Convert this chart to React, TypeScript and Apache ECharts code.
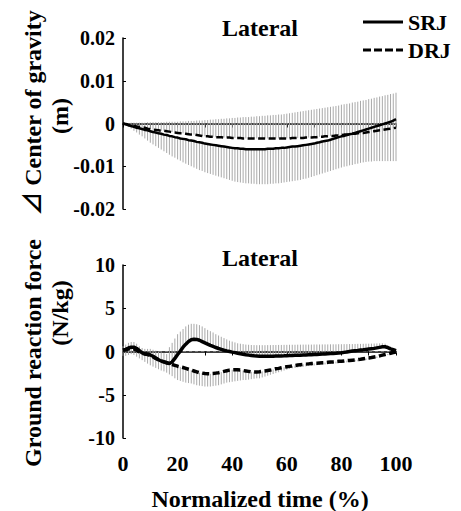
import React, { useEffect, useRef } from "react";
import * as echarts from "echarts";

// Normalized time (%), one sample per percent
const TIME: number[] = Array.from({ length: 101 }, (_, i) => i);

// ---- Top panel: Δ Center of gravity (m), lateral ----
const COG_SRJ: number[] = [
  0, -0.0002, -0.0004, -0.0006, -0.0008, -0.001, -0.0011, -0.0013, -0.0015, -0.0016, -0.0018,
  -0.002, -0.0021, -0.0023, -0.0024, -0.0026, -0.0027, -0.0029, -0.003, -0.0032, -0.0033,
  -0.0035, -0.0036, -0.0037, -0.0039, -0.004, -0.0041, -0.0043, -0.0044, -0.0045, -0.0047,
  -0.0048, -0.0049, -0.005, -0.0051, -0.0052, -0.0053, -0.0054, -0.0055, -0.0056, -0.0057,
  -0.0058, -0.0058, -0.0059, -0.0059, -0.006, -0.006, -0.006, -0.006, -0.006, -0.006,
  -0.006, -0.006, -0.0059, -0.0059, -0.0059, -0.0058, -0.0058, -0.0057, -0.0057, -0.0056,
  -0.0055, -0.0054, -0.0054, -0.0053, -0.0052, -0.0051, -0.005, -0.0049, -0.0048, -0.0047,
  -0.0045, -0.0044, -0.0042, -0.0041, -0.004, -0.0038, -0.0036, -0.0034, -0.0032, -0.003,
  -0.0029, -0.0027, -0.0025, -0.0024, -0.0022, -0.002, -0.0018, -0.0016, -0.0014, -0.0012,
  -0.001, -0.0008, -0.0006, -0.0004, -0.0002, 0, 0.0002, 0.0004, 0.0007, 0.001,
];
const COG_DRJ: number[] = [
  0, -0.0001, -0.0003, -0.0004, -0.0006, -0.0007, -0.0008, -0.0009, -0.001, -0.0012, -0.0013,
  -0.0014, -0.0015, -0.0016, -0.0017, -0.0017, -0.0018, -0.0019, -0.002, -0.0021, -0.0022,
  -0.0023, -0.0023, -0.0024, -0.0025, -0.0026, -0.0026, -0.0027, -0.0028, -0.0029, -0.003,
  -0.003, -0.0031, -0.0031, -0.0032, -0.0032, -0.0032, -0.0033, -0.0033, -0.0033, -0.0034,
  -0.0034, -0.0034, -0.0034, -0.0035, -0.0035, -0.0035, -0.0035, -0.0035, -0.0035, -0.0035,
  -0.0035, -0.0035, -0.0035, -0.0035, -0.0035, -0.0035, -0.0035, -0.0035, -0.0035, -0.0035,
  -0.0035, -0.0034, -0.0034, -0.0034, -0.0034, -0.0034, -0.0033, -0.0033, -0.0033, -0.0032,
  -0.0032, -0.0031, -0.0031, -0.003, -0.003, -0.0029, -0.0029, -0.0028, -0.0028, -0.0027,
  -0.0026, -0.0026, -0.0025, -0.0024, -0.0024, -0.0023, -0.0022, -0.0022, -0.0021, -0.002,
  -0.0019, -0.0018, -0.0017, -0.0016, -0.0015, -0.0014, -0.0013, -0.0012, -0.0011, -0.001,
];
// DRJ + SD (bars drawn upward from DRJ)
const COG_DRJ_UP: number[] = [
  0, 0.0001, 0.0001, 0.0002, 0.0002, 0.0002, 0.0002, 0.0002, 0.0002, 0.0003, 0.0003,
  0.0003, 0.0003, 0.0003, 0.0003, 0.0003, 0.0004, 0.0004, 0.0004, 0.0004, 0.0004,
  0.0005, 0.0005, 0.0005, 0.0006, 0.0006, 0.0006, 0.0007, 0.0007, 0.0007, 0.0008,
  0.0008, 0.0009, 0.0009, 0.001, 0.001, 0.0011, 0.0011, 0.0012, 0.0012, 0.0013,
  0.0013, 0.0014, 0.0014, 0.0015, 0.0015, 0.0015, 0.0016, 0.0016, 0.0017, 0.0017,
  0.0018, 0.0018, 0.0019, 0.0019, 0.002, 0.002, 0.0021, 0.0021, 0.0022, 0.0023,
  0.0024, 0.0025, 0.0026, 0.0027, 0.0028, 0.0029, 0.003, 0.0031, 0.0032, 0.0033,
  0.0034, 0.0035, 0.0036, 0.0037, 0.0038, 0.0039, 0.004, 0.0041, 0.0042, 0.0044,
  0.0045, 0.0046, 0.0047, 0.0049, 0.005, 0.0051, 0.0053, 0.0054, 0.0055, 0.0057,
  0.0058, 0.006, 0.0061, 0.0063, 0.0064, 0.0066, 0.0067, 0.0069, 0.007, 0.0072,
];
// SRJ - SD (bars drawn downward from SRJ)
const COG_SRJ_DOWN: number[] = [
  0, -0.0004, -0.0008, -0.0012, -0.0017, -0.0021, -0.0026, -0.003, -0.0035, -0.004, -0.0045,
  -0.0049, -0.0053, -0.0057, -0.0061, -0.0065, -0.0069, -0.0073, -0.0077, -0.008, -0.0084,
  -0.0087, -0.0091, -0.0094, -0.0097, -0.01, -0.0103, -0.0106, -0.0109, -0.0111, -0.0114,
  -0.0116, -0.0118, -0.012, -0.0122, -0.0124, -0.0126, -0.0128, -0.013, -0.0132, -0.0134,
  -0.0136, -0.0137, -0.0138, -0.0139, -0.014, -0.014, -0.0141, -0.0141, -0.0142, -0.0142,
  -0.0142, -0.0142, -0.0142, -0.0141, -0.0141, -0.014, -0.014, -0.0139, -0.0138, -0.0137,
  -0.0136, -0.0135, -0.0134, -0.0133, -0.0132, -0.013, -0.0129, -0.0127, -0.0125, -0.0123,
  -0.0121, -0.0119, -0.0117, -0.0115, -0.0113, -0.0111, -0.0109, -0.0107, -0.0105, -0.0103,
  -0.0101, -0.01, -0.0098, -0.0097, -0.0095, -0.0094, -0.0092, -0.0091, -0.009, -0.0089,
  -0.0089, -0.0088, -0.0088, -0.0088, -0.0088, -0.0088, -0.0088, -0.0088, -0.0088, -0.0088,
];

// ---- Bottom panel: Ground reaction force (N/kg), lateral ----
const GRF_SRJ: number[] = [
  0.15, 0.25, 0.4, 0.5, 0.5, 0.35, 0.1, -0.15, -0.25, -0.3, -0.4,
  -0.55, -0.75, -0.95, -1.1, -1.2, -1.3, -1.4, -1.2, -0.8, -0.35,
  0.05, 0.5, 0.85, 1.15, 1.35, 1.42, 1.4, 1.3, 1.15, 1.0,
  0.85, 0.7, 0.58, 0.46, 0.35, 0.25, 0.15, 0.07, 0.0, -0.07,
  -0.13, -0.2, -0.26, -0.32, -0.38, -0.42, -0.46, -0.5, -0.52, -0.54,
  -0.55, -0.55, -0.55, -0.55, -0.54, -0.53, -0.52, -0.51, -0.5, -0.48,
  -0.47, -0.46, -0.44, -0.43, -0.42, -0.41, -0.4, -0.38, -0.37, -0.35,
  -0.34, -0.32, -0.3, -0.28, -0.26, -0.24, -0.22, -0.2, -0.17, -0.15,
  -0.1, -0.05, 0.0, 0.05, 0.1, 0.13, 0.17, 0.2, 0.24, 0.28,
  0.32, 0.36, 0.42, 0.48, 0.54, 0.55, 0.45, 0.3, 0.2, 0.1,
];
const GRF_DRJ: number[] = [
  0.15, 0.2, 0.3, 0.35, 0.3, 0.15, -0.05, -0.2, -0.3, -0.35, -0.45,
  -0.6, -0.8, -0.95, -1.1, -1.2, -1.3, -1.4, -1.5, -1.6, -1.7,
  -1.78, -1.85, -1.95, -2.05, -2.15, -2.25, -2.35, -2.45, -2.5, -2.55,
  -2.57, -2.58, -2.55, -2.5, -2.45, -2.38, -2.3, -2.22, -2.15, -2.1,
  -2.1, -2.12, -2.15, -2.2, -2.25, -2.3, -2.35, -2.37, -2.37, -2.35,
  -2.3, -2.25, -2.2, -2.15, -2.08, -2.0, -1.95, -1.88, -1.82, -1.77,
  -1.72, -1.67, -1.62, -1.57, -1.52, -1.48, -1.46, -1.43, -1.4, -1.38,
  -1.36, -1.33, -1.3, -1.28, -1.25, -1.22, -1.2, -1.17, -1.14, -1.12,
  -1.09, -1.06, -1.03, -1.0, -0.97, -0.94, -0.9, -0.85, -0.8, -0.75,
  -0.7, -0.64, -0.58, -0.5, -0.42, -0.35, -0.28, -0.2, -0.12, -0.05,
];
// SRJ + SD (bars drawn upward from SRJ)
const GRF_SRJ_UP: number[] = [
  0.6, 0.8, 1.0, 1.1, 1.1, 0.9, 0.6, 0.4, 0.3, 0.3, 0.3,
  0.2, 0.1, 0.0, -0.1, -0.2, -0.3, 0.5, 1.0, 1.5, 2.0,
  2.3, 2.6, 2.9, 3.1, 3.2, 3.2, 3.15, 3.05, 2.9, 2.7,
  2.5, 2.35, 2.2, 2.0, 1.85, 1.7, 1.55, 1.4, 1.25, 1.15,
  1.05, 0.95, 0.9, 0.85, 0.8, 0.78, 0.75, 0.74, 0.73, 0.73,
  0.73, 0.73, 0.74, 0.74, 0.75, 0.75, 0.76, 0.76, 0.77, 0.77,
  0.78, 0.78, 0.78, 0.79, 0.79, 0.8, 0.8, 0.8, 0.8, 0.81,
  0.81, 0.81, 0.82, 0.82, 0.82, 0.83, 0.83, 0.83, 0.84, 0.84,
  0.85, 0.85, 0.86, 0.86, 0.87, 0.88, 0.88, 0.89, 0.9, 0.9,
  0.91, 0.92, 0.93, 0.94, 0.95, 0.9, 0.75, 0.55, 0.4, 0.25,
];
// DRJ - SD (bars drawn downward from DRJ)
const GRF_DRJ_DOWN: number[] = [
  -0.5, -0.5, -0.4, -0.3, -0.4, -0.6, -0.8, -1.0, -1.2, -1.4, -1.6,
  -1.75, -1.9, -2.05, -2.2, -2.3, -2.45, -2.65, -2.85, -3.1, -3.3,
  -3.4, -3.5, -3.6, -3.65, -3.7, -3.8, -3.9, -3.95, -4.0, -4.05,
  -4.05, -4.05, -4.0, -3.95, -3.9, -3.8, -3.7, -3.6, -3.55, -3.5,
  -3.45, -3.4, -3.35, -3.3, -3.3, -3.25, -3.2, -3.15, -3.1, -3.1,
  -3.0, -2.9, -2.8, -2.7, -2.6, -2.5, -2.4, -2.3, -2.2, -2.1,
  -2.0, -1.95, -1.9, -1.85, -1.8, -1.76, -1.72, -1.68, -1.65, -1.62,
  -1.59, -1.56, -1.53, -1.5, -1.47, -1.44, -1.41, -1.38, -1.35, -1.32,
  -1.29, -1.26, -1.23, -1.2, -1.17, -1.13, -1.09, -1.04, -0.99, -0.94,
  -0.88, -0.82, -0.75, -0.67, -0.58, -0.5, -0.42, -0.33, -0.24, -0.15,
];

const X_TICK_LABELS: number[] = [0, 20, 40, 60, 80, 100];
const FONT = "'Liberation Serif', 'DejaVu Serif', serif";
const FONT_SYM = "'Liberation Serif', 'DejaVu Serif', 'Noto Sans CJK JP', serif";

const pairs = (ys: number[]) => TIME.map((t, i) => [t, ys[i]]);
const spans = (from: number[], to: number[]) => TIME.map((t, i) => [t, from[i], to[i]]);

const barSeries = (data: number[][], gi: number) => ({
  type: "custom",
  xAxisIndex: gi,
  yAxisIndex: gi,
  silent: true,
  z: 1,
  encode: { x: 0, y: [1, 2] },
  data,
  renderItem: (_p: any, api: any) => {
    const x = api.value(0);
    const a = api.coord([x, api.value(1)]);
    const b = api.coord([x, api.value(2)]);
    return {
      type: "line",
      shape: { x1: a[0], y1: a[1], x2: b[0], y2: b[1] },
      style: { stroke: "#a9a9a9", lineWidth: 1 },
    };
  },
});

const lineSeries = (name: string, ys: number[], gi: number, dashed: boolean, w: number) => ({
  type: "line",
  name,
  xAxisIndex: gi,
  yAxisIndex: gi,
  data: pairs(ys),
  symbol: "none",
  showSymbol: false,
  z: 3,
  lineStyle: { color: "#000", width: w, type: dashed ? [7, 3.5] : "solid" },
  itemStyle: { color: "#000" },
});

const zeroLine = (gi: number) => ({
  type: "line",
  xAxisIndex: gi,
  yAxisIndex: gi,
  data: [[0, 0], [100, 0]],
  symbol: "none",
  silent: true,
  z: 2,
  lineStyle: { color: "#777", width: 1, type: [3, 3] },
});

const txt = (text: string, x: number, y: number, size: number, rot = 0, family = FONT) => ({
  type: "text",
  x,
  y,
  rotation: rot,
  silent: true,
  style: {
    text,
    fontFamily: family,
    fontWeight: "bold",
    fontSize: size,
    fill: "#000",
    textAlign: "center",
    align: "center",
    textVerticalAlign: "middle",
    verticalAlign: "middle",
  },
});

const xAxisBase = (gi: number, showLabels: boolean) => ({
  type: "value",
  gridIndex: gi,
  min: 0,
  max: 100,
  interval: 10,
  axisLine: { show: true, lineStyle: { color: "#000", width: 1.5 } },
  axisTick: { show: true, length: 4, lineStyle: { color: "#000", width: 1 } },
  splitLine: { show: false },
  axisLabel: {
    show: showLabels,
    margin: 14,
    fontFamily: FONT,
    fontWeight: "bold",
    fontSize: 22,
    color: "#000",
    formatter: (v: number) => (X_TICK_LABELS.includes(v) ? String(v) : ""),
  },
});

const yAxisBase = (gi: number, min: number, max: number, interval: number) => ({
  type: "value",
  gridIndex: gi,
  min,
  max,
  interval,
  axisLine: { show: true, lineStyle: { color: "#000", width: 1.5 } },
  axisTick: { show: true, inside: true, length: 3, lineStyle: { color: "#000", width: 1 } },
  splitLine: { show: false },
  axisLabel: {
    margin: 8,
    fontFamily: FONT,
    fontWeight: "bold",
    fontSize: 20,
    color: "#000",
  },
});

export default function App() {
  const ref = useRef<HTMLDivElement>(null);
  useEffect(() => {
    if (!ref.current) return;
    const chart = echarts.init(ref.current, undefined, { renderer: "svg" });
    chart.setOption({
      animation: false,
      backgroundColor: "#fff",
      textStyle: { fontFamily: FONT },
      grid: [
        { left: 123, top: 38, width: 273, height: 171 },
        { left: 123, top: 265, width: 273, height: 173 },
      ],
      xAxis: [xAxisBase(0, false), xAxisBase(1, true)],
      yAxis: [yAxisBase(0, -0.02, 0.02, 0.01), yAxisBase(1, -10, 10, 5)],
      legend: {
        data: [
          { name: "SRJ", icon: "path://M0 0H40V3H0Z" },
          { name: "DRJ", icon: "path://M0 0H8V3H0Z M11 0H19V3H11Z M22 0H30V3H22Z M33 0H40V3H33Z" },
        ],
        orient: "vertical",
        left: 363,
        top: 11,
        padding: 0,
        itemWidth: 40,
        itemHeight: 3,
        itemGap: 6,
        selectedMode: false,
        textStyle: { fontFamily: FONT, fontWeight: "bold", fontSize: 22, color: "#000" },
      },
      graphic: [
        txt("Lateral", 260, 28, 24),
        txt("Lateral", 260, 258, 24),
        txt("⊿ Center of gravity", 33, 113, 24, Math.PI / 2, FONT_SYM),
        txt("(m)", 60, 116, 24, Math.PI / 2),
        txt("Ground reaction force", 33, 353, 24, Math.PI / 2),
        txt("(N/kg)", 60, 313, 24, Math.PI / 2),
        txt("Normalized time (%)", 260, 499, 24),
      ],
      series: [
        barSeries(spans(COG_DRJ, COG_DRJ_UP), 0),
        barSeries(spans(COG_SRJ, COG_SRJ_DOWN), 0),
        zeroLine(0),
        lineSeries("SRJ", COG_SRJ, 0, false, 2.5),
        lineSeries("DRJ", COG_DRJ, 0, true, 2.5),
        barSeries(spans(GRF_SRJ, GRF_SRJ_UP), 1),
        barSeries(spans(GRF_DRJ, GRF_DRJ_DOWN), 1),
        zeroLine(1),
        lineSeries("SRJ", GRF_SRJ, 1, false, 3.5),
        lineSeries("DRJ", GRF_DRJ, 1, true, 3.5),
      ],
    });
    return () => chart.dispose();
  }, []);
  return (
    <div
      ref={ref}
      style={{ position: "fixed", left: 0, top: 0, width: 461, height: 511, background: "#fff" }}
    />
  );
}
